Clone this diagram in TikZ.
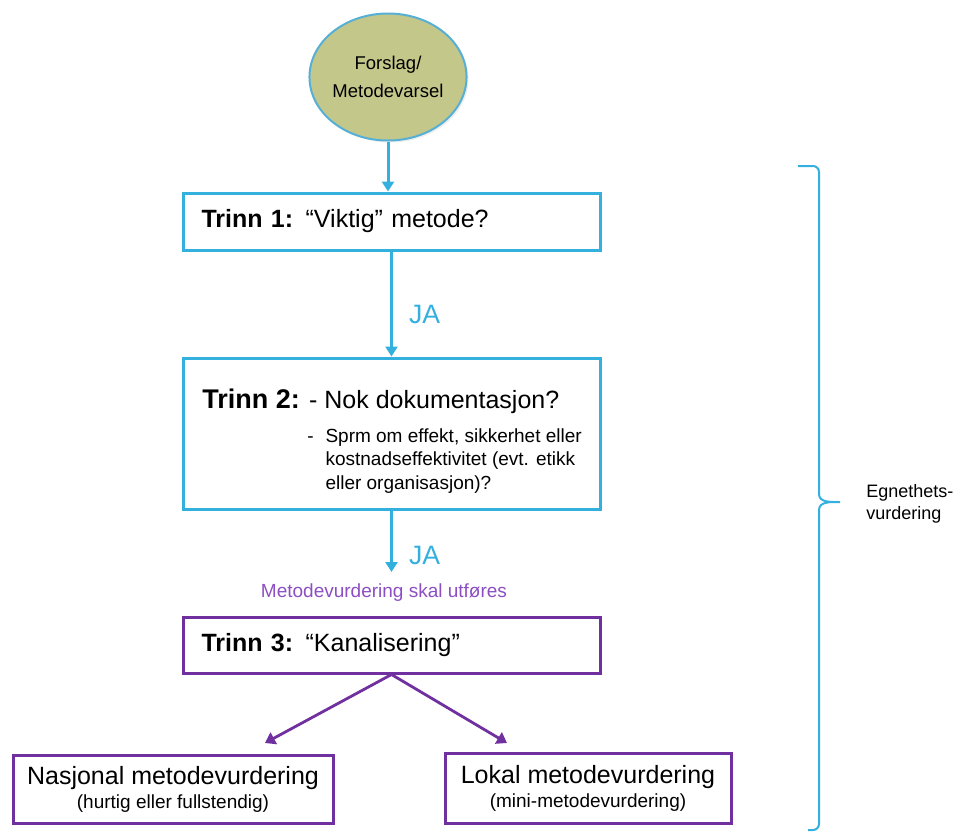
\documentclass[tikz,border=0pt]{standalone}
\usepackage{fontspec}
\setmainfont{Liberation Sans}
\usetikzlibrary{arrows.meta,positioning,shapes.geometric,shadows}

\definecolor{stepblue}{RGB}{52,176,222}
\definecolor{ovalfill}{RGB}{196,199,138}
\definecolor{ovalline}{RGB}{86,176,214}
\definecolor{chanpurple}{RGB}{112,48,160}
\definecolor{txtpurple}{RGB}{140,78,194}

\newcommand{\stephead}[1]{{\bfseries #1}}

\begin{document}
\begin{tikzpicture}[
			x=0.5pt, y=-0.5pt,
			>=Triangle,
			start/.style={
				ellipse, draw=ovalline, fill=ovalfill, line width=1pt,
				minimum width=76.5pt, minimum height=63.5pt,
				align=center, inner sep=0pt,
				font=\fontsize{9.25}{14}\selectfont,
				drop shadow={opacity=0.15, shadow xshift=1pt, shadow yshift=-1pt}
			},
			stepbox/.style={
				rectangle, fill=white, line width=1.5pt,
				minimum width=208.5pt, text width=190pt,
				inner xsep=9.25pt, inner ysep=0pt, align=left,
				font=\fontsize{12.5}{15}\selectfont,
				drop shadow={opacity=0.15, shadow xshift=1pt, shadow yshift=-1.2pt}
			},
			bluebox/.style={stepbox, draw=stepblue},
			purplebox/.style={stepbox, draw=chanpurple},
			leaf/.style={
				rectangle, draw=chanpurple, fill=white, line width=1.5pt,
				align=center, inner sep=0pt,
				drop shadow={opacity=0.15, shadow xshift=1pt, shadow yshift=-1.2pt}
			},
			flow/.style={-{Triangle[length=5pt,width=6pt]}, line width=1.5pt, draw=stepblue},
			chan/.style={-{Triangle[length=5pt,width=6.5pt]}, line width=1.4pt, draw=chanpurple},
			ja/.style={text=stepblue, inner sep=0pt, font=\fontsize{13.3}{16}\selectfont},
			brace/.style={draw=stepblue, line width=1pt},
			lbl/.style={inner sep=0pt, font=\fontsize{9.5}{11.75}\selectfont}
			]
			\useasboundingbox (0,0) rectangle (960,832);
			
			%% ── Start: proposal ─────────────────────────────────────────────────
			\node[start] (start) at (388,77) {Forslag/\\Metodevarsel};
			
			%% ── Trinn 1 ─────────────────────────────────────────────────────────
			\node[bluebox, minimum height=28.5pt] (t1) at (391.5,221.5) {\stephead{Trinn 1:} “Viktig” metode?};
			\draw[flow] (start.south) -- (start.south |- t1.north);
			
			%% ── Trinn 2 ─────────────────────────────────────────────────────────
			\node[bluebox, minimum height=75.5pt] (t2) at (391.5,433.5) {};
			\node[anchor=base west, inner sep=0pt, font=\fontsize{12.5}{15}\selectfont] (t2head) at (202,408)
				{{\fontsize{13.5}{16}\selectfont\bfseries Trinn 2:} - Nok dokumentasjon?};
			\node[lbl, anchor=base west] (t2sub) at (307,442) {%
				\begin{tabular}[t]{@{}l@{\hspace{5.9pt}}l@{}}
					- & Sprm om effekt, sikkerhet eller\\
					  & kostnadseffektivitet (evt. etikk\\
					  & eller organisasjon)?
				\end{tabular}};
			\draw[flow] (t1.south) -- node[ja, right=8pt, pos=0.6] (ja1) {JA} (t2.north);
			
			%% ── Decision: assessment to be done ─────────────────────────────────
			\coordinate (a2) at (391.5,572);
			\draw[flow] (t2.south) -- node[ja, right=8pt, pos=0.73] (ja2) {JA} (a2);
			\node[lbl, text=txtpurple] (mv) at (384,593) {Metodevurdering skal utføres};
			
			%% ── Trinn 3 ─────────────────────────────────────────────────────────
			\node[purplebox, minimum height=28pt] (t3) at (391.5,645) {\stephead{Trinn 3:} “Kanalisering”};
			
			%% ── Channels ────────────────────────────────────────────────────────
			\node[leaf, minimum width=160pt, minimum height=34pt] (nasj) at (173,789) {%
				{\fontsize{12.5}{13.5}\selectfont Nasjonal metodevurdering}\\
				{\fontsize{9.5}{13.5}\selectfont (hurtig eller fullstendig)}};
			\node[leaf, minimum width=143pt, minimum height=35pt] (lokal) at (588,788) {%
				{\fontsize{12.5}{13.5}\selectfont Lokal metodevurdering}\\
				{\fontsize{9.5}{13.5}\selectfont (mini-metodevurdering)}};
			\coordinate (nasjin) at (265,743);
			\coordinate (lokalin) at (507,743);
			\draw[chan] (t3.south) -- (nasjin);
			\draw[chan] (t3.south) -- (lokalin);
			
			%% ── Brace: suitability assessment ───────────────────────────────────
			\draw[brace] (798,166) -- (813,166) to[out=0,in=90] (819,172) -- (819,494)
				to[out=-90,in=180] (840,502) to[out=180,in=90] (819,510) -- (819,824)
				to[out=-90,in=0] (813,830) -- (808,830);
			\node[anchor=west, align=left, inner sep=0pt, font=\fontsize{9}{11}\selectfont] (egn) at (866,504)
				{Egnethets-\\vurdering};
			
		\end{tikzpicture}
\end{document}
